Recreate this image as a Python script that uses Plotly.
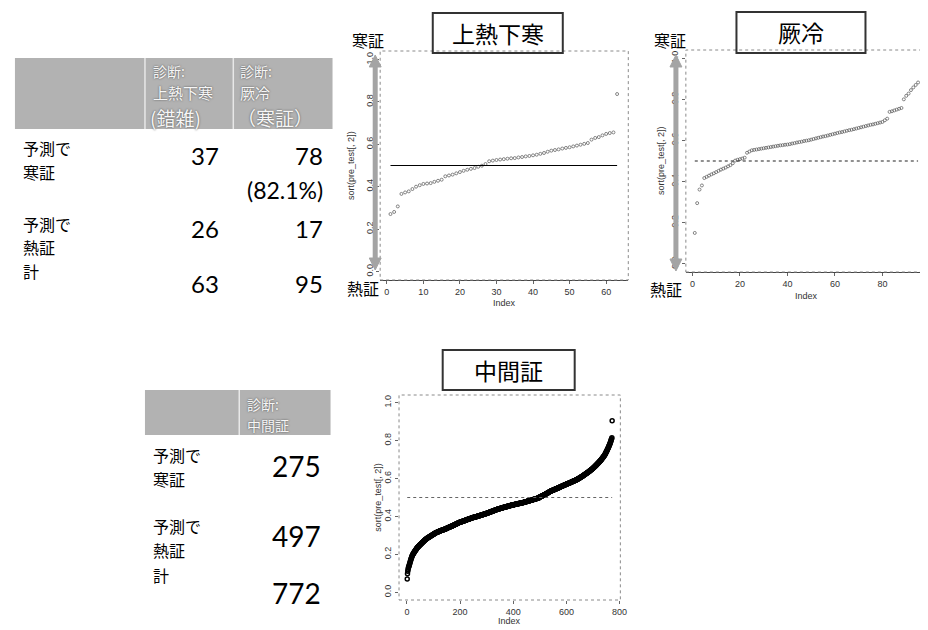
import plotly.graph_objects as go

W, H = 928, 630
JP = "Noto Sans CJK JP"
NUM = "Lato"
AX = "Liberation Sans"

# ---------------- data ----------------
threshold = 0.5

p1_title = "上熱下寒"
p1_values = [0.271, 0.281, 0.307, 0.366, 0.373, 0.378, 0.389, 0.400, 0.407, 0.413,
             0.415, 0.417, 0.423, 0.428, 0.433, 0.449, 0.453, 0.457, 0.463, 0.469,
             0.475, 0.480, 0.484, 0.488, 0.494, 0.499, 0.507, 0.520, 0.523, 0.526,
             0.528, 0.530, 0.532, 0.534, 0.535, 0.538, 0.540, 0.543, 0.545, 0.548,
             0.551, 0.555, 0.559, 0.565, 0.570, 0.573, 0.576, 0.580, 0.583, 0.586,
             0.590, 0.594, 0.598, 0.602, 0.606, 0.622, 0.630, 0.634, 0.642, 0.649,
             0.653, 0.656, 0.837]

p2_title = "厥冷"
p2_values = [0.150, 0.295, 0.361, 0.381, 0.417, 0.423, 0.429, 0.435, 0.440, 0.446,
             0.452, 0.458, 0.463, 0.468, 0.474, 0.480, 0.489, 0.502, 0.506, 0.509,
             0.512, 0.516, 0.540, 0.546, 0.552, 0.554, 0.556, 0.558, 0.560, 0.562,
             0.564, 0.566, 0.568, 0.570, 0.572, 0.574, 0.576, 0.577, 0.579, 0.580,
             0.582, 0.585, 0.587, 0.590, 0.592, 0.594, 0.597, 0.599, 0.601, 0.604,
             0.607, 0.610, 0.613, 0.616, 0.619, 0.621, 0.624, 0.627, 0.630, 0.633,
             0.636, 0.639, 0.641, 0.644, 0.647, 0.650, 0.652, 0.655, 0.658, 0.661,
             0.664, 0.667, 0.670, 0.673, 0.676, 0.678, 0.681, 0.684, 0.687, 0.690,
             0.698, 0.706, 0.739, 0.742, 0.746, 0.750, 0.754, 0.758, 0.800, 0.817,
             0.828, 0.845, 0.858, 0.870, 0.882]

p3_title = "中間証"
p3_values = [
    .071, .098, .112, .120, .127, .132, .137, .141, .146, .150,
    .155, .160, .165, .170, .175, .179, .183, .187, .191, .195,
    .197, .200, .202, .204, .206, .209, .211, .213, .216, .218,
    .220, .222, .224, .226, .228, .230, .232, .234,
    .236, .237, .239, .240, .242, .243, .245, .246, .248, .249, .251, .252,
    .253, .255, .256, .257, .259, .260, .262, .263, .264, .266, .267, .268, .270, .271, .272, .274, .275, .277, .278,
    .279, .280, .281, .282, .283, .284, .285, .286, .287, .288, .289, .290, .291, .291, .292, .293, .294, .295, .296, .297, .298,
    .299, .300, .300, .301, .302, .303, .304, .305, .306, .307, .308, .308, .309, .310, .311, .312, .313,
    .314, .314, .315, .315, .316, .317, .317, .318, .318, .319, .320, .320, .321, .322, .322, .323, .323, .324,
    .325, .325, .326, .326, .327, .327, .328, .328, .329, .329, .330, .330, .331, .331, .332, .332, .333, .333, .334,
    .335, .335, .336, .336, .337, .338, .338, .339, .340, .340, .341, .342, .342, .343, .343, .344, .345, .345, .346, .346, .347, .348, .348, .349, .349, .350,
    .351, .351, .352, .353, .353, .354, .355, .356, .356, .357, .358, .358, .359, .360, .360, .361, .362, .362, .363, .364, .365, .365, .366,
    .367, .367, .368, .368, .369, .369, .370, .370, .371, .371, .372, .372, .373, .373, .374, .374, .375, .375, .376, .376, .377, .377, .378, .378, .379, .379, .380,
    .381, .381, .382, .382, .383, .383, .384, .384, .385, .385, .386, .386, .387, .387, .388, .388, .389, .389, .390, .390, .391, .391, .392,
    .392, .393, .393, .394, .394, .394, .395, .395, .396, .396, .396, .397, .397, .398, .398, .398, .399, .399, .400, .400, .400, .401, .401, .402, .402, .402, .403,
    .403, .404, .404, .405, .405, .406, .406, .406, .407, .407, .408, .408, .409, .409, .410, .410, .411, .411, .412, .412, .412, .413,
    .413, .414, .414, .415, .415, .416, .416, .417, .417, .418, .418, .419, .419, .420, .420, .421, .421, .422, .422, .423, .423, .424, .424, .425, .425, .426, .426, .427,
    .428, .428, .429, .429, .430, .430, .431, .431, .432, .432, .433, .434, .434, .435, .435, .436, .436, .437, .437, .438, .438, .439,
    .439, .440, .440, .440, .441, .441, .442, .442, .442, .443, .443, .444, .444, .444, .445, .445, .446, .446, .446, .447, .447, .448, .448, .448, .449, .449, .450, .450,
    .450, .451, .451, .452, .452, .452, .453, .453, .454, .454, .454, .455, .455, .456, .456, .456, .457, .457, .458, .458, .458, .459,
    .459, .460, .460, .460, .460, .461, .461, .461, .462, .462, .462, .463, .463, .463, .464, .464, .464, .465, .465, .465, .466, .466, .466, .467, .467, .467, .468, .468,
    .468, .469, .469, .469, .470, .470, .470, .471, .471, .471, .472, .472, .472, .473, .473, .473, .474, .474, .474, .475, .475,
    .475, .476, .476, .477, .477, .477, .478, .478, .479, .479, .479, .480, .480, .481, .481, .481, .482, .482, .483, .483, .483, .484, .484, .485, .485, .485, .486, .486, .487,
    .487, .488, .488, .489, .489, .489, .490, .490, .491, .491, .492, .492, .492, .493, .493, .494, .494, .495, .495, .496, .496, .496, .497, .497, .498, .498, .499,
    .501, .502, .502, .503, .504, .504, .505, .506, .507, .507, .508, .509, .509, .510, .511, .511, .512, .513, .514, .514, .515, .516, .516,
    .517, .518, .519, .520, .521, .521, .522, .523, .524, .525, .525, .526, .527, .528, .529, .530, .530, .531, .532, .533,
    .534, .534, .535, .535, .536, .537, .537, .538, .538, .539, .540, .540, .541, .541, .542, .543, .543, .544, .544, .545, .546, .546, .547, .547, .548,
    .549, .549, .550, .551, .551, .552, .552, .553, .554, .554, .555, .556, .556, .557, .558, .558, .559, .559, .560, .561, .561, .562, .563, .563, .564,
    .565, .565, .566, .566, .567, .568, .568, .569, .569, .570, .571, .571, .572, .572, .573, .574, .574, .575, .575, .576, .577, .577, .578, .578, .579,
    .580, .580, .581, .581, .582, .583, .583, .584, .585, .585, .586, .586, .587, .588, .588, .589, .590, .590, .591, .591, .592, .593, .593, .594,
    .595, .596, .597, .597, .598, .599, .600, .601, .602, .603, .603, .604, .605, .606, .607, .608, .609, .609, .610, .611, .612,
    .613, .614, .615, .616, .617, .618, .619, .620, .621, .622, .623, .624, .625, .626, .627, .628, .629,
    .630, .631, .632, .633, .634, .635, .636, .637, .638, .639, .640, .642, .643, .644, .645, .646, .647, .648, .649, .650,
    .651, .653, .654, .655, .657, .658, .659, .661, .662, .663, .665, .666, .668, .669, .670, .672, .673,
    .675, .676, .678, .679, .681, .682, .684, .685, .687, .688, .690, .691, .693, .694, .696, .697,
    .699, .701, .703, .705, .707, .709, .711, .712, .714, .716, .718, .720, .722, .724, .726,
    .729, .732, .735, .738, .741, .743, .746, .749, .752, .755, .758, .761,
    .764, .768, .771, .774, .778, .781, .785, .788,
    .792, .797, .801, .806, .810, .815, .905,
]
assert len(p1_values) == 63 and len(p2_values) == 95 and len(p3_values) == 772

y_ticks = [0.0, 0.2, 0.4, 0.6, 0.8, 1.0]
y_ticktext = ["0.0", "0.2", "0.4", "0.6", "0.8", "1.0"]
p1_xticks = [0, 10, 20, 30, 40, 50, 60]
p2_xticks = [0, 20, 40, 60, 80]
p3_xticks = [0, 200, 400, 600, 800]
y_title = "sort(pre_test[, 2])"
x_title = "Index"

# tables
t1_head_col2 = ["診断:", "上熱下寒", "(錯雑)"]
t1_head_col3 = ["診断:", "厥冷", "（寒証）"]
t_row_labels = [["予測で", "寒証"], ["予測で", "熱証"], ["計"]]
t1_col2 = ["37", "26", "63"]
t1_col3 = ["78", "17", "95"]
t1_pct = "(82.1%)"
t2_head = ["診断:", "中間証"]
t2_col = ["275", "497", "772"]
arrow_top, arrow_bottom = "寒証", "熱証"

# ---------------- helpers ----------------
def px(x):
    return x / W


def py(y):
    return 1 - y / H


annotations = []
shapes = []


def text(x, y, s, size, xanchor="left", color="black", family=JP, angle=0, shadow=None):
    font = dict(size=size, color=color, family=family)
    if shadow:
        font["shadow"] = shadow
    annotations.append(dict(x=px(x), y=py(y), xref="paper", yref="paper", text=s,
                            showarrow=False, xanchor=xanchor, yanchor="middle",
                            font=font, textangle=angle, borderpad=0))


def rect(x0, y0, x1, y1, fill=None, color=None, width=0, dash="solid"):
    shapes.append(dict(type="rect", xref="paper", yref="paper",
                       x0=px(x0), x1=px(x1), y0=py(y1), y1=py(y0),
                       fillcolor=fill if fill else "rgba(0,0,0,0)",
                       line=dict(color=color if color else "rgba(0,0,0,0)", width=width, dash=dash),
                       layer="below" if fill else "above"))


def line(x0, y0, x1, y1, color, width, dash="solid"):
    shapes.append(dict(type="line", xref="paper", yref="paper",
                       x0=px(x0), x1=px(x1), y0=py(y0), y1=py(y1),
                       line=dict(color=color, width=width, dash=dash)))


def tri(points, color):
    path = "M " + " L ".join(f"{px(a):.5f},{py(b):.5f}" for a, b in points) + " Z"
    shapes.append(dict(type="path", xref="paper", yref="paper", path=path,
                       fillcolor=color, line=dict(color=color, width=1)))


def varrow(x, ytop, ybot, color="#a4a4a4"):
    line(x, ytop + 9, x, ybot - 9, color, 5)
    tri([(x - 6, ytop + 12), (x, ytop), (x + 6, ytop + 12)], color)
    tri([(x - 6, ybot - 12), (x, ybot), (x + 6, ybot - 12)], color)


fig = go.Figure()

# ---------------- plots ----------------
plots = [
    dict(vals=p1_values, dom_x=(375, 625), dom_y=(43, 272), xr=[-1.82, 66.06], xt=p1_xticks,
         hdash="solid", hcolor="black", mcolor="#555", msize=3, mlw=0.7, axisline=True,
         title=p1_title, tbox=(428, 5, 559, 45), ytx=345, xty=295),
    dict(vals=p2_values, dom_x=(683, 926), dom_y=(42, 264), xr=[-2.76, 98.76], xt=p2_xticks,
         hdash="dot", hcolor="#222", mcolor="#555", msize=3, mlw=0.7, axisline=True,
         title=p2_title, tbox=(734, 4, 864, 45), ytx=658, xty=288),
    dict(vals=p3_values, dom_x=(394, 617), dom_y=(387, 592), xr=[-29.84, 802.84], xt=p3_xticks,
         hdash="dot", hcolor="#666", mcolor="black", msize=4, mlw=1.5, axisline=False,
         title=p3_title, tbox=(438, 342, 571, 382), ytx=372, xty=613),
]

for i, p in enumerate(plots, start=1):
    n = len(p["vals"])
    xa = "x" if i == 1 else f"x{i}"
    ya = "y" if i == 1 else f"y{i}"
    fig.add_trace(go.Scatter(x=list(range(1, n + 1)), y=p["vals"], mode="markers",
                             marker=dict(symbol="circle-open", size=p["msize"], color=p["mcolor"],
                                         line=dict(width=p["mlw"], color=p["mcolor"])),
                             xaxis=xa, yaxis=ya, hoverinfo="skip"))
    fig.add_trace(go.Scatter(x=[1, n], y=[threshold, threshold], mode="lines",
                             line=dict(color=p["hcolor"], width=1.2, dash=p["hdash"]),
                             xaxis=xa, yaxis=ya, hoverinfo="skip"))
    x0, x1 = p["dom_x"]
    y0, y1 = p["dom_y"]
    xkey = "xaxis" if i == 1 else f"xaxis{i}"
    ykey = "yaxis" if i == 1 else f"yaxis{i}"
    fig.update_layout(**{
        xkey: dict(domain=[px(x0), px(x1)], range=p["xr"], anchor=ya, tickvals=p["xt"],
                   ticks="outside", ticklen=3, tickcolor="#666", showgrid=False, zeroline=False,
                   showline=p["axisline"], linecolor="#444", linewidth=1,
                   tickfont=dict(family=AX, size=9, color="#333")),
        ykey: dict(domain=[py(y1), py(y0)], range=[-0.04, 1.04], anchor=xa, tickvals=y_ticks,
                   ticktext=y_ticktext, tickangle=-90, ticks="outside", ticklen=3,
                   tickcolor="#666", showgrid=False, zeroline=False, showline=False,
                   tickfont=dict(family=AX, size=9, color="#333")),
    })
    # dotted plot frame
    rect(x0, y0, x1, y1, color="#8a8a8a", width=1, dash="dot")
    # axis titles
    text((x0 + x1) / 2, p["xty"], x_title, 9, xanchor="center", family=AX, color="#333")
    text(p["ytx"], (y0 + y1) / 2, y_title, 9, xanchor="center", family=AX, color="#333", angle=-90)
    # title box
    bx0, by0, bx1, by1 = p["tbox"]
    rect(bx0, by0, bx1, by1, color="#333", width=2)
    text((bx0 + bx1) / 2, (by0 + by1) / 2, p["title"], 23, xanchor="center")

# arrows beside plots 1 and 2
varrow(370, 47, 262)
varrow(673, 47, 263)
text(363, 32, arrow_top, 16, xanchor="center")
text(358, 280, arrow_bottom, 16, xanchor="center")
text(667, 32, arrow_top, 16, xanchor="center")
text(663, 281, arrow_bottom, 16, xanchor="center")

# ---------------- table 1 ----------------
HEAD_FILL = "#b2b2b2"
HEAD_TXT = "#f6f6f6"
SH = "0px 0px 2px #444"
rect(7, 50, 327, 121, fill=HEAD_FILL)
line(138, 50, 138, 121, "#e8e8e8", 1.5)
line(227, 50, 227, 121, "#e8e8e8", 1.5)
for x, col in [(145, t1_head_col2), (233, t1_head_col3)]:
    text(x, 63, col[0], 14, color=HEAD_TXT, shadow=SH)
    text(x, 85, col[1], 15, color=HEAD_TXT, shadow=SH)
    text(x - 3, 109, col[2], 19, color=HEAD_TXT, shadow=SH)

row_pos = [(140, 164), (216, 239), (263,)]
for labels, ys in zip(t_row_labels, row_pos):
    for s, yy in zip(labels, ys):
        text(14, yy, s, 16)
num_y = [147, 221, 275]
for v2, v3, yy in zip(t1_col2, t1_col3, num_y):
    text(214, yy, v2, 24, xanchor="right", family=NUM)
    text(318, yy, v3, 24, xanchor="right", family=NUM)
text(318, 182, t1_pct, 23, xanchor="right", family=NUM)

# ---------------- table 2 ----------------
rect(138, 382, 325, 427, fill=HEAD_FILL)
line(233, 382, 233, 427, "#e8e8e8", 1.5)
text(240, 396, t2_head[0], 14, color=HEAD_TXT, shadow=SH)
text(240, 417, t2_head[1], 14, color=HEAD_TXT, shadow=SH)
row_pos2 = [(447, 471), (518, 542), (567,)]
for labels, ys in zip(t_row_labels, row_pos2):
    for s, yy in zip(labels, ys):
        text(145, yy, s, 16)
for v, yy in zip(t2_col, [458, 528, 585]):
    text(316, yy, v, 28, xanchor="right", family=NUM)

# faint scan lines at bottom
line(0, 626, 95, 626, "#d0d0d0", 2)
line(145, 626, 240, 626, "#d0d0d0", 2)

fig.update_layout(width=W, height=H, margin=dict(l=0, r=0, t=0, b=0),
                  paper_bgcolor="white", plot_bgcolor="white", showlegend=False,
                  annotations=annotations, shapes=shapes)
fig.write_html("out.html")
